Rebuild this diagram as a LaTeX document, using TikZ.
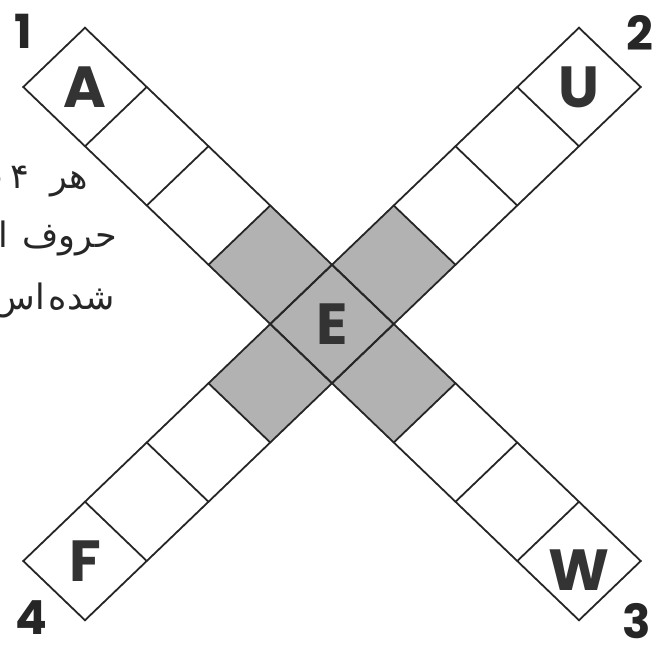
\documentclass[tikz,border=0pt]{standalone}
\usepackage{fontspec}
\setmainfont{Poppins}
\newfontfamily\persfont[Script=Arabic]{DejaVu Sans}
\begin{document}
\begin{tikzpicture}[
  x={(61.75pt,-59.25pt)}, y={(61.75pt,59.25pt)},
  cellline/.style={line width=1.8pt, draw=black!85, line join=miter},
  shade/.style={fill=black!30},
  letter/.style={font=\fontsize{58}{62}\selectfont\bfseries, text=black!80, inner sep=0pt},
  num/.style={font=\fontsize{47}{50}\selectfont\bfseries, text=black!85, inner sep=0pt},
  pers/.style={font=\persfont\fontsize{35}{40}\selectfont, text=black!85, inner sep=0pt, anchor=base east}
]
\useasboundingbox (-332pt,-321pt) rectangle (330pt,324pt);
\begin{scope}
\clip (-332pt,-321pt) rectangle (330pt,324pt);
% Persian text (one node per word; the lines are cut off at the left edge as in the reference)
\node[pers] (t1a) at (-244pt,135pt) {هر};
\node[pers] (t1b) at (-302pt,135pt) {۴};
\node[pers] (t1c) at (-328pt,135pt) {ب};
\node[pers] (t2a) at (-215pt,76pt) {حروف};
\node[pers] (t2b) at (-324pt,76pt) {ا};
\node[pers] (t3a) at (-217pt,14pt) {شده};
\node[pers] (t3b) at (-287pt,14pt) {اس};
\end{scope}
% shaded cells
\fill[shade] (-1.5,-0.5) -- (1.5,-0.5) -- (1.5,0.5) -- (-1.5,0.5) -- cycle;
\fill[shade] (-0.5,-1.5) -- (0.5,-1.5) -- (0.5,1.5) -- (-0.5,1.5) -- cycle;
% strip 1 (top-left to bottom-right)
\draw[cellline] (-4.5,-0.5) -- (4.5,-0.5) -- (4.5,0.5) -- (-4.5,0.5) -- cycle;
\foreach \i in {-3.5,-2.5,...,3.5} \draw[cellline] (\i,-0.5) -- (\i,0.5);
% strip 2 (bottom-left to top-right)
\draw[cellline] (-0.5,-4.5) -- (0.5,-4.5) -- (0.5,4.5) -- (-0.5,4.5) -- cycle;
\foreach \j in {-3.5,-2.5,...,3.5} \draw[cellline] (-0.5,\j) -- (0.5,\j);
% letters
\node[letter] (A) at (-4,0) {A};
\node[letter] (W) at ([yshift=-9pt]4,0) {W};
\node[letter] (U) at (0,4) {U};
\node[letter] (F) at (0,-4) {F};
\node[letter] (E) at (0,0) {E};
% numbers
\node[num] (n1) at (-309pt,293pt) {1};
\node[num] (n2) at (308pt,291pt) {2};
\node[num] (n3) at (305pt,-297pt) {3};
\node[num] (n4) at (-301pt,-294pt) {4};
\end{tikzpicture}
\end{document}
